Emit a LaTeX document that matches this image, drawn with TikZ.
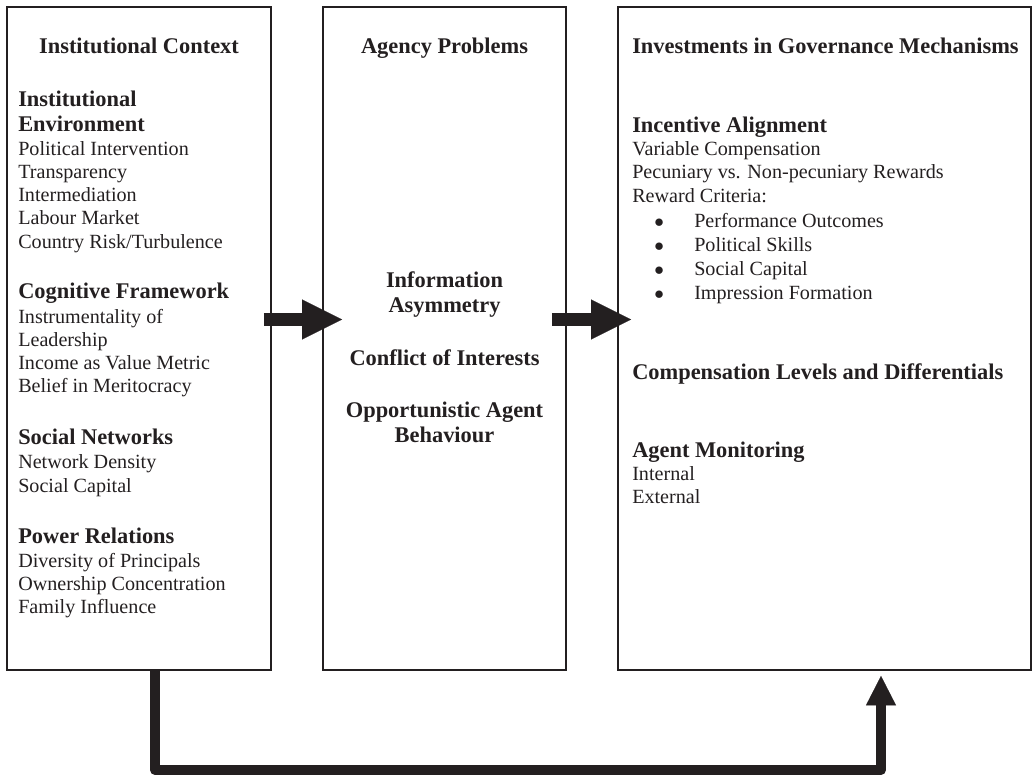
\documentclass[tikz,border=0pt]{standalone}
\usepackage{fontspec}
\setmainfont{Liberation Serif}
\usetikzlibrary{arrows.meta,calc,fit}

\definecolor{ink}{RGB}{35,31,32}
\newcommand\bodysize{\fontsize{15.1pt}{17.5pt}\selectfont}
\newcommand\headsize{\fontsize{16.8pt}{18.75pt}\selectfont\bfseries}

\tikzset{
  panel/.style={draw=ink, line width=1.4pt, inner sep=0pt},
  head/.style={anchor=base west, inner sep=0pt, text=ink, font=\headsize},
  midhead/.style={anchor=base, inner sep=0pt, text=ink, font=\headsize},
  entry/.style={anchor=base west, inner sep=0pt, text=ink, font=\bodysize},
  fat/.style={draw=ink, line width=9.75pt, -{Triangle[length=30pt,width=30pt,line width=0.1pt]}},
  feedback/.style={draw=ink, line width=7.5pt, line join=round,
    -{Triangle[length=22pt,width=22.5pt,line width=0.1pt]}}
}

\begin{document}
\begin{tikzpicture}[x=0.75pt,y=-0.75pt]
    \useasboundingbox (0,0) rectangle (1033,778);

    % the three panels
    \node[panel, fit={(7,7) (271,670)}] (context) {};
    \node[panel, fit={(323,7) (566,670)}] (problems) {};
    \node[panel, fit={(618,7) (1031,670)}] (mechanisms) {};

    % Institutional context
    \node[midhead] (ctxtitle) at (139,53) {Institutional Context};
    \node[head] (inst1) at (18,106) {Institutional};
    \node[head] (inst2) at (18,131) {Environment};
    \foreach \lbl [count=\i from 0] in {Political Intervention,Transparency,Intermediation,Labour Market,Country Risk/Turbulence}
      \node[entry] (env\i) at (18,{155+23.3*\i}) {\lbl};
    \node[head] (cogn) at (18,298) {Cognitive Framework};
    \foreach \lbl [count=\i from 0] in {Instrumentality of,Leadership,Income as Value Metric,Belief in Meritocracy}
      \node[entry] (cog\i) at (18,{323+23.3*\i}) {\lbl};
    \node[head] (socnet) at (18,444) {Social Networks};
    \foreach \lbl [count=\i from 0] in {Network Density,Social Capital}
      \node[entry] (soc\i) at (18,{468+24*\i}) {\lbl};
    \node[head] (power) at (18,543) {Power Relations};
    \foreach \lbl [count=\i from 0] in {Diversity of Principals,Ownership Concentration,Family Influence}
      \node[entry] (pow\i) at (18,{567+23*\i}) {\lbl};

    % Agency problems
    \node[midhead] (probtitle) at (444.5,53) {Agency Problems};
    \node[midhead] (asym1) at (444.5,287) {Information};
    \node[midhead] (asym2) at (444.5,312) {Asymmetry};
    \node[midhead] (conflict) at (444.5,365) {Conflict of Interests};
    \node[midhead] (oppo1) at (444.5,417) {Opportunistic Agent};
    \node[midhead] (oppo2) at (444.5,442) {Behaviour};

    % Governance mechanisms
    \node[head] (mechtitle) at (632,53) {Investments in Governance Mechanisms};
    \node[head] (incent) at (632,132) {Incentive Alignment};
    \foreach \lbl [count=\i from 0] in {Variable Compensation,Pecuniary vs. Non-pecuniary Rewards,Reward Criteria:}
      \node[entry] (inc\i) at (632,{155+23.5*\i}) {\lbl};
    \foreach \lbl [count=\i from 0] in {Performance Outcomes,Political Skills,Social Capital,Impression Formation}
      \node[entry] (crit\i) at (654,{227+24.3*\i}) {\makebox[30pt][l]{$\bullet$}\lbl};
    \node[head] (complev) at (632,379) {Compensation Levels and Differentials};
    \node[head] (monit) at (632,457) {Agent Monitoring};
    \foreach \lbl [count=\i from 0] in {Internal,External}
      \node[entry] (mon\i) at (632,{480+23*\i}) {\lbl};

    % arrows
    \draw[fat] ($(context.east)+(-8,-19)$) -- ($(problems.west)+(20,-19)$);
    \draw[fat] ($(problems.east)+(-15,-19)$) -- ($(mechanisms.west)+(14,-19)$);
    \draw[feedback] ($(context.south)+(16,0)$) -- ++(0,99) -| ($(mechanisms.south)+(56.5,5)$);
\end{tikzpicture}
\end{document}
